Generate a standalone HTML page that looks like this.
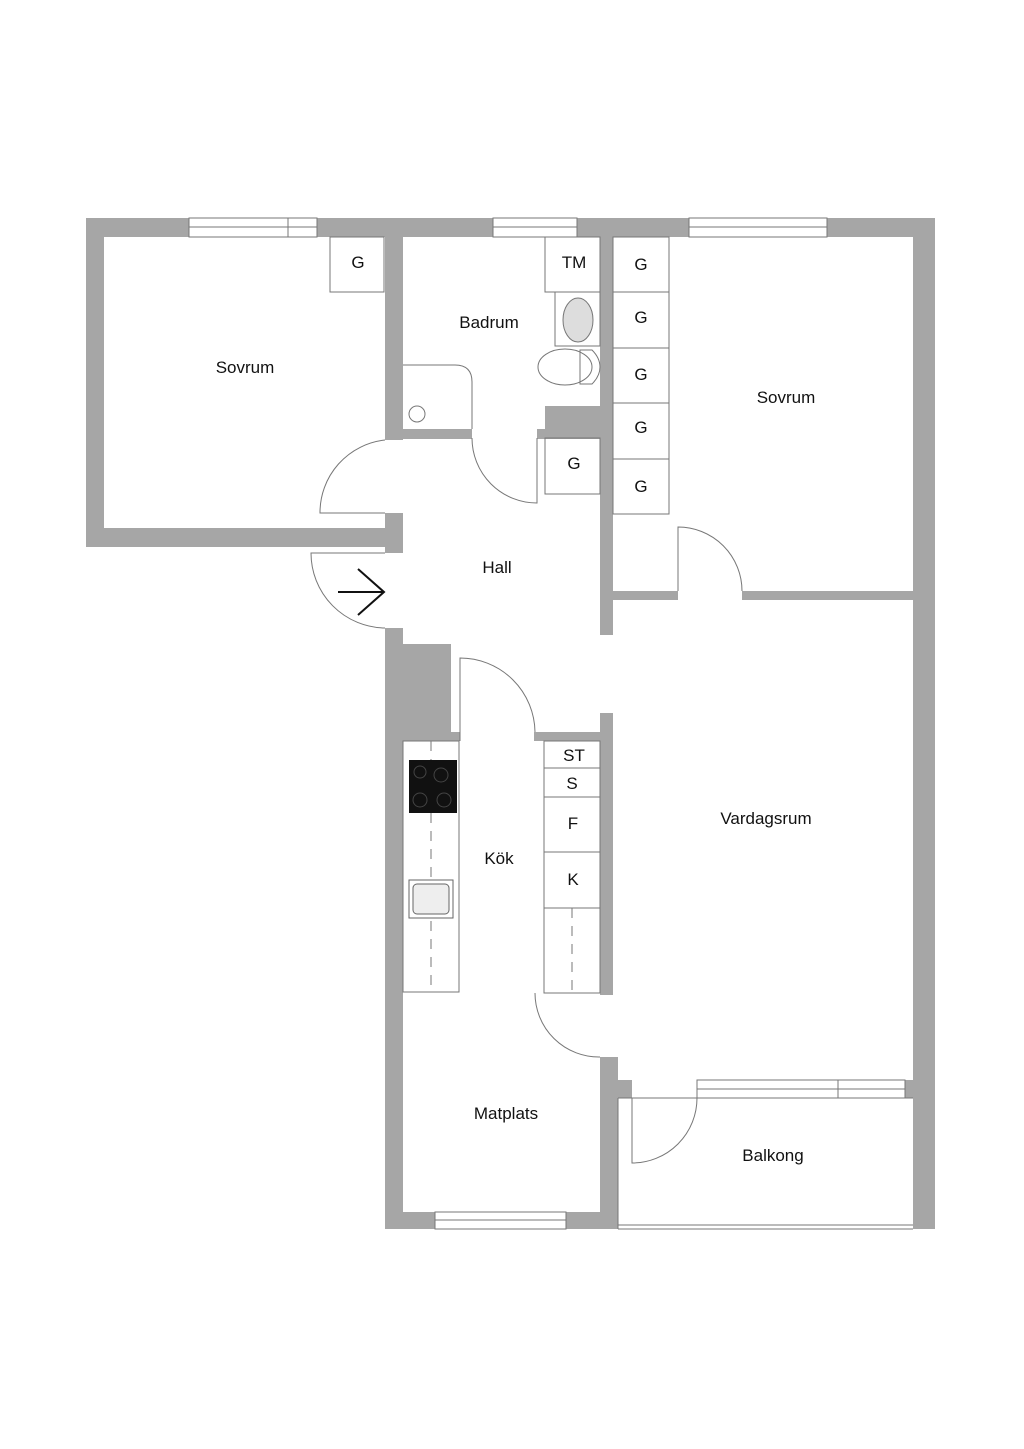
<!DOCTYPE html>
<html><head><meta charset="utf-8"><style>
html,body{margin:0;padding:0;background:#fff;}
svg{display:block;}
text{font-family:"Liberation Sans",sans-serif;font-size:17px;fill:#111;text-anchor:middle;}
.s{font-size:17px;}
</style></head><body>
<svg width="1024" height="1449" viewBox="0 0 1024 1449" xmlns="http://www.w3.org/2000/svg">
<g fill="#a6a6a6">
<!-- top wall -->
<rect x="86" y="218" width="849" height="19"/>
<!-- left wall -->
<rect x="86" y="218" width="18" height="329"/>
<rect x="86" y="528" width="317" height="19"/>
<!-- sovrum/badrum wall -->
<rect x="385" y="218" width="18" height="222"/>
<rect x="385" y="513" width="18" height="40"/>
<rect x="385" y="628" width="18" height="601"/>
<!-- badrum bottom -->
<rect x="403" y="429" width="69" height="10"/>
<rect x="537" y="429" width="63" height="10"/>
<rect x="545" y="406" width="55" height="33"/>
<!-- wall badrum / sovrum right -->
<rect x="600" y="218" width="13" height="417"/>
<!-- right outer -->
<rect x="913" y="218" width="22" height="1011"/>
<!-- sovrum right bottom -->
<rect x="613" y="591" width="65" height="9"/>
<rect x="742" y="591" width="171" height="9"/>
<!-- kitchen block -->
<rect x="403" y="644" width="48" height="97"/>
<rect x="403" y="732" width="57" height="9"/>
<rect x="534" y="732" width="66" height="9"/>
<rect x="600" y="713" width="13" height="282"/>
<!-- matplats/balkong -->
<rect x="600" y="1057" width="18" height="172"/>
<rect x="613" y="1080" width="19" height="18"/>
<rect x="905" y="1080" width="8" height="18"/>
<!-- bottom -->
<rect x="385" y="1212" width="233" height="17"/>
<rect x="913" y="1212" width="22" height="17"/>
</g>
<!-- windows -->
<g fill="#fff" stroke="#777" stroke-width="1">
<rect x="189" y="218" width="128" height="19"/>
<rect x="493" y="218" width="84" height="19"/>
<rect x="689" y="218" width="138" height="19"/>
<rect x="435" y="1212" width="131" height="17"/>
<rect x="697" y="1080" width="208" height="18"/>
</g>
<g stroke="#777" stroke-width="1" fill="none">
<line x1="189" y1="227" x2="317" y2="227"/><line x1="288" y1="218" x2="288" y2="237"/>
<line x1="493" y1="227" x2="577" y2="227"/>
<line x1="689" y1="227" x2="827" y2="227"/>
<line x1="435" y1="1220" x2="566" y2="1220"/>
<line x1="697" y1="1089" x2="905" y2="1089"/><line x1="838" y1="1080" x2="838" y2="1098"/>
<line x1="618" y1="1098" x2="913" y2="1098"/>
<line x1="618" y1="1098" x2="618" y2="1229"/>
<line x1="618" y1="1225" x2="913" y2="1225"/>
<line x1="618" y1="1229" x2="913" y2="1229"/>
<!-- closets -->
<rect x="330" y="237" width="54" height="55"/>
<rect x="545" y="237" width="55" height="55"/>
<rect x="555" y="292" width="45" height="54"/>
<rect x="545" y="438" width="55" height="56"/>
<rect x="613" y="237" width="56" height="277"/>
<line x1="613" y1="292" x2="669" y2="292"/><line x1="613" y1="348" x2="669" y2="348"/>
<line x1="613" y1="403" x2="669" y2="403"/><line x1="613" y1="459" x2="669" y2="459"/>
<!-- shower -->
<path d="M403 365 H455 Q472 365 472 382 V429"/>
<circle cx="417" cy="414" r="8"/>
<!-- toilet -->
<ellipse cx="565" cy="367" rx="27" ry="18"/>
<path d="M580 350 H592 Q600 358 600 367 Q600 376 592 384 H580 Z"/>
<!-- sink bath -->
<ellipse cx="578" cy="320" rx="15" ry="22" fill="#ddd"/>
<!-- doors -->
<path d="M385 440 A73 73 0 0 0 320 513 H385"/>
<path d="M472 438 A65 65 0 0 0 537 503 V438"/>
<path d="M678 591 V527 A64 64 0 0 1 742 591"/>
<path d="M385 553 H311 A75 75 0 0 0 385 628"/>
<path d="M460 741 V658 A75 75 0 0 1 535 732"/>
<path d="M535 993 A64 64 0 0 0 600 1057"/>
<path d="M632 1098 V1163 A65 65 0 0 0 697 1098"/>
<!-- kitchen counters -->
<rect x="403" y="741" width="56" height="251"/>
<rect x="544" y="741" width="56" height="252"/>
<line x1="544" y1="768" x2="600" y2="768"/><line x1="544" y1="797" x2="600" y2="797"/>
<line x1="544" y1="852" x2="600" y2="852"/><line x1="544" y1="908" x2="600" y2="908"/>
<line x1="431" y1="741" x2="431" y2="992" stroke-dasharray="10,8"/>
<line x1="572" y1="908" x2="572" y2="993" stroke-dasharray="10,8"/>
<rect x="409" y="880" width="44" height="38" fill="#fff" stroke="#666"/>
<rect x="413" y="884" width="36" height="30" rx="4" stroke="#666" fill="#eee"/>
</g>
<rect x="409" y="760" width="48" height="53" fill="#111"/>
<g stroke="#444" fill="none" stroke-width="1"><circle cx="420" cy="772" r="6"/><circle cx="441" cy="775" r="7"/><circle cx="420" cy="800" r="7"/><circle cx="444" cy="800" r="7"/></g>
<!-- arrow -->
<g stroke="#111" stroke-width="2" fill="none"><line x1="338" y1="592" x2="384" y2="592"/><polyline points="358,569 384,592 358,615"/></g>
<!-- labels -->
<text x="358" y="268">G</text>
<text x="574" y="268">TM</text>
<text x="574" y="469">G</text>
<text x="641" y="270">G</text><text x="641" y="323">G</text><text x="641" y="380">G</text><text x="641" y="433">G</text><text x="641" y="492">G</text>
<text x="574" y="761">ST</text><text x="572" y="789">S</text><text x="573" y="829">F</text><text x="573" y="885">K</text>
<text x="245" y="373">Sovrum</text>
<text x="489" y="328">Badrum</text>
<text x="786" y="403">Sovrum</text>
<text x="497" y="573">Hall</text>
<text x="499" y="864">Kök</text>
<text x="766" y="824">Vardagsrum</text>
<text x="506" y="1119">Matplats</text>
<text x="773" y="1161">Balkong</text>
</svg>
</body></html>
